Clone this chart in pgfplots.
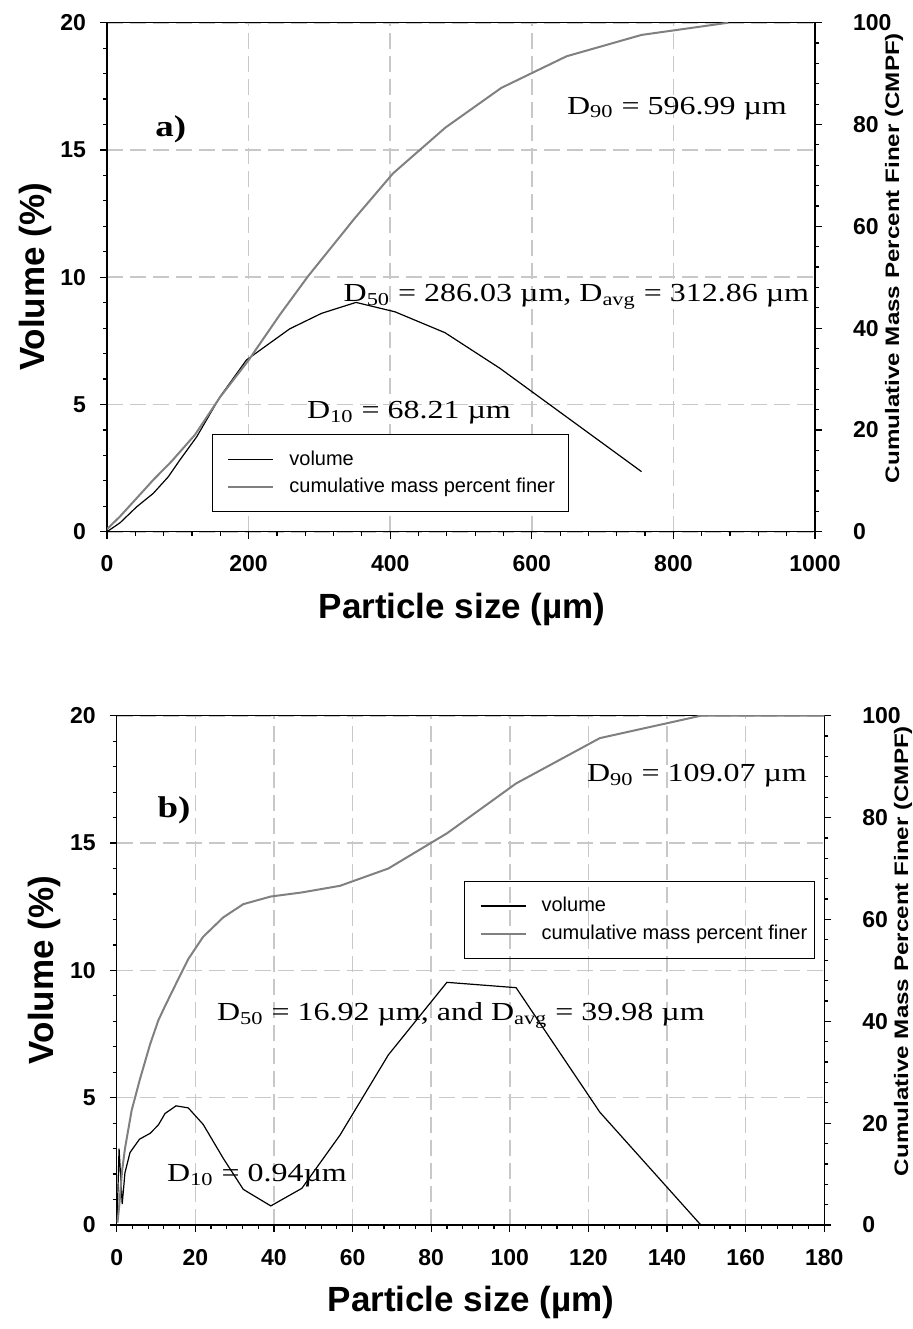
\documentclass[border=0pt]{standalone}
\usepackage{pgfplots}
\pgfplotsset{compat=1.18}
\usepackage{fontspec}
\setmainfont{Liberation Sans}
\newfontfamily\annfont{Liberation Serif}[FakeStretch=1.23]
\newfontfamily\rlabfont{Liberation Sans}[FakeStretch=1.24]

\definecolor{cmpfgray}{RGB}{128,128,128}
\definecolor{gridgray}{RGB}{200,200,200}

\pgfplotsset{
  psd/.style={
    scale only axis,
    tick align=outside,
    major tick length=3.5pt,
    minor tick length=2pt,
    every tick/.style={black, line width=0.6pt},
    axis line style={line width=0.6pt},
    ticklabel style={font=\fontsize{11.5}{13}\selectfont\bfseries},
    /pgf/number format/assume math mode=true,
    /pgf/number format/1000 sep={},
    minor tick num=4,
  },
  leftax/.style={psd, xtick pos=left, ytick pos=left,
    ymin=0, ymax=20, ytick={0,5,...,20},
    xticklabel style={yshift=-5pt},
    yticklabel style={xshift=-3.5pt},
    grid=major,
    major grid style={gridgray, line width=0.8pt, dash pattern=on 8pt off 3.5pt}},
  rightax/.style={psd, axis y line*=right, axis x line=none,
    ymin=0, ymax=100, ytick={0,20,...,100},
    yticklabel style={xshift=12pt}},
  leg/.style={legend cell align=left,
    legend image code/.code={\draw[##1] (0pt,0pt) -- (22.5pt,0pt);},
    legend style={anchor=north west, draw=black, line width=0.6pt,
      inner xsep=7.5pt, inner ysep=6pt, column sep=5.5pt, row sep=1pt,
      font=\fontsize{10}{12}\selectfont}},
}

\begin{document}
\begin{tikzpicture}
\path[use as bounding box] (0pt,0pt) rectangle (456.5pt,-664.5pt);

% ---------- a) ----------
\begin{axis}[leftax, at={(53.5pt,-265.85pt)}, anchor=south west,
  width=354pt, height=254.5pt, xmin=0, xmax=1000, xtick={0,200,...,1000}]
\addplot[black, line width=0.6pt] coordinates {
  (0,0) (18.4,0.35) (42,0.98) (65.5,1.51) (86.6,2.16) (103,2.82) (126.7,3.73)
  (159.6,5.3) (197,6.75) (223,7.27) (258,7.97) (303,8.58) (351.7,9.01)
  (406.8,8.64) (477.4,7.82) (555,6.42) (755,2.36)
};
\end{axis}
\begin{axis}[rightax, leg, at={(53.5pt,-265.85pt)}, anchor=south west,
  width=354pt, height=254.5pt, xmin=0, xmax=1000,
  legend style={at={(axis description cs:0.148,0.192)}, fill=white}]
\addlegendimage{black, line width=0.6pt}
\addlegendentry{\makebox[130pt][l]{volume}}
\addplot[cmpfgray, line width=1pt] coordinates {
  (0,0.5) (18.4,3) (42,6.6) (65.5,10.2) (91,13.8) (124,19) (160,26.5)
  (200,33.7) (244,42.6) (284,50.2) (350,61.6) (404,70.4) (478,79.4)
  (557,87.2) (649,93.4) (755,97.6) (877.5,100)
};
\addlegendentry{\makebox[130pt][l]{cumulative mass percent finer}}
\end{axis}

% ---------- b) ----------
\begin{axis}[leftax, at={(58.35pt,-612.5pt)}, anchor=south west,
  width=353.8pt, height=254.65pt, xmin=0, xmax=180, xtick={0,20,...,180}]
\addplot[black, line width=0.6pt] coordinates {
  (0.1,0.1) (0.2,0.72) (0.6,3.0) (1.4,0.82) (2.1,2.05) (3.4,2.85) (5.8,3.37)
  (8.5,3.6) (10.6,3.93) (12.3,4.38) (15.1,4.68) (18.2,4.6) (22,3.95)
  (27.1,2.62) (32.2,1.4) (39.2,0.75) (47.1,1.44) (56.8,3.53) (69.1,6.68)
  (84,9.53) (101.6,9.32) (122.9,4.43) (148.6,0) (180,0)
};
\end{axis}
\begin{axis}[rightax, leg, at={(58.35pt,-612.5pt)}, anchor=south west,
  width=353.8pt, height=254.65pt, xmin=0, xmax=180,
  legend style={at={(axis description cs:0.4908,0.676)}, fill=none}]
\addlegendimage{black, line width=0.6pt}
\addlegendentry{\makebox[127pt][l]{volume}}
\addplot[cmpfgray, line width=1pt] coordinates {
  (0.2,0.5) (0.67,4) (1.35,10.5) (2.1,15) (3.8,22.5) (5.9,28.6) (8.5,35.5)
  (10.6,40.2) (12.3,43) (15.1,47.4) (18.2,52.2) (22,56.6) (27.1,60.4)
  (32.2,63) (39.2,64.5) (47.1,65.3) (56.8,66.6) (69.1,70) (84,76.9)
  (101.6,86.7) (122.9,95.6) (148.6,100) (180,100)
};
\addlegendentry{\makebox[127pt][l]{cumulative mass percent finer}}
\end{axis}

% axis titles
\begin{scope}[font=\fontsize{17.5}{20}\selectfont\bfseries]
\node[rotate=90] at (17.5pt,-138.5pt) {Volume (\%)};
\node[rotate=90] at (22.3pt,-485pt) {Volume (\%)};
\node[anchor=base] at (231pt,-309pt) {Particle size (µm)};
\node[anchor=base] at (235.5pt,-655.6pt) {Particle size (µm)};
\end{scope}
\begin{scope}[font=\rlabfont\fontsize{9.75}{12}\selectfont\bfseries]
\node[rotate=90] at (447pt,-129pt) {Cumulative Mass Percent Finer (CMPF)};
\node[rotate=90] at (451.5pt,-475.5pt) {Cumulative Mass Percent Finer (CMPF)};
\end{scope}

% annotations
\begin{scope}[font=\annfont\fontsize{13}{15}\selectfont, inner sep=0pt]
\node[anchor=base west, font=\annfont\fontsize{15}{17}\selectfont\bfseries] at (77.5pt,-68.35pt) {a)};
\node[anchor=base west] at (283.35pt,-57pt) {D\textsubscript{90} = 596.99 µm};
\node[anchor=base west] at (171.65pt,-150.75pt) {D\textsubscript{50} = 286.03 µm, D\textsubscript{avg} = 312.86 µm};
\node[anchor=base west] at (153.35pt,-209.15pt) {D\textsubscript{10} = 68.21 µm};
\node[anchor=base west, font=\annfont\fontsize{15}{17}\selectfont\bfseries] at (78.65pt,-408.65pt) {b)};
\node[anchor=base west] at (293.35pt,-390.85pt) {D\textsubscript{90} = 109.07 µm};
\node[anchor=base west] at (108.35pt,-510.35pt) {D\textsubscript{50} = 16.92 µm, and D\textsubscript{avg} = 39.98 µm};
\node[anchor=base west] at (83.35pt,-590.85pt) {D\textsubscript{10} = 0.94µm};
\end{scope}
\end{tikzpicture}
\end{document}
